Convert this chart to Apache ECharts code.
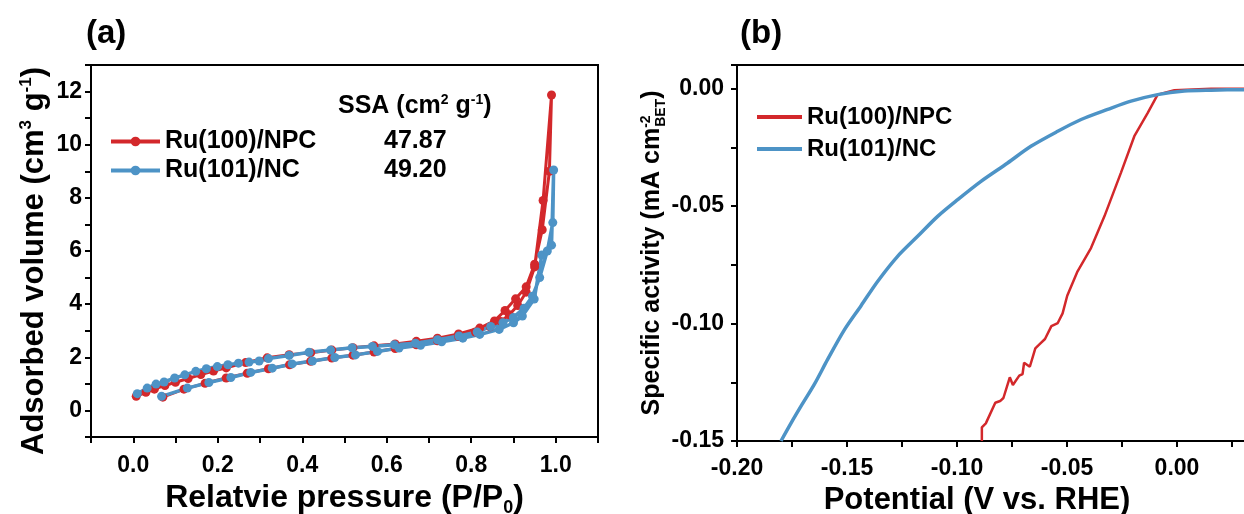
<!DOCTYPE html>
<html>
<head>
<meta charset="utf-8">
<script src="https://cdn.jsdelivr.net/npm/echarts@6/dist/echarts.min.js"></script>
<style>
  html, body { margin: 0; padding: 0; background: #fff; }
  #main { width: 1244px; height: 514px; }
</style>
</head>
<body>
<div id="main"></div>
<script>
// ---- (a) N2 isotherms, adsorption branch then desorption branch ----
const npcAdsP = [0.07, 0.12, 0.17, 0.22, 0.27, 0.32, 0.37, 0.42, 0.47, 0.52, 0.57, 0.62, 0.67, 0.72, 0.77, 0.81, 0.845, 0.87, 0.89, 0.91, 0.93, 0.95, 0.97, 0.99];
const npcAdsV = [0.5, 0.8, 1.02, 1.22, 1.4, 1.57, 1.72, 1.85, 1.97, 2.08, 2.2, 2.33, 2.47, 2.62, 2.78, 2.95, 3.15, 3.35, 3.6, 3.95, 4.45, 5.4, 7.9, 11.87];
const npcDesP = [0.985, 0.968, 0.95, 0.93, 0.905, 0.88, 0.855, 0.82, 0.77, 0.72, 0.67, 0.62, 0.57, 0.52, 0.47, 0.42, 0.369, 0.317, 0.266, 0.22, 0.19, 0.16, 0.13, 0.1, 0.075, 0.05, 0.03, 0.007];
const npcDesV = [9.0, 6.8, 5.5, 4.65, 4.2, 3.76, 3.37, 3.1, 2.88, 2.72, 2.6, 2.5, 2.43, 2.36, 2.27, 2.17, 2.1, 1.98, 1.8, 1.6, 1.48, 1.35, 1.2, 1.06, 0.94, 0.8, 0.68, 0.53];

const ncAdsP = [0.067, 0.128, 0.179, 0.231, 0.278, 0.329, 0.376, 0.424, 0.477, 0.526, 0.578, 0.629, 0.68, 0.73, 0.78, 0.82, 0.866, 0.9, 0.921, 0.949, 0.967, 0.99, 0.995];
const ncAdsV = [0.53, 0.84, 1.05, 1.24, 1.43, 1.59, 1.75, 1.86, 1.99, 2.09, 2.22, 2.35, 2.45, 2.58, 2.72, 2.86, 3.05, 3.3, 3.55, 4.19, 5.85, 6.22, 9.05];
const ncDesP = [0.993, 0.98, 0.962, 0.945, 0.925, 0.9, 0.875, 0.846, 0.814, 0.771, 0.72, 0.668, 0.618, 0.566, 0.518, 0.467, 0.416, 0.369, 0.32, 0.298, 0.274, 0.249, 0.224, 0.199, 0.173, 0.148, 0.122, 0.098, 0.073, 0.054, 0.033, 0.0095];
const ncDesV = [7.07, 6.0, 5.0, 4.3, 3.85, 3.5, 3.3, 3.16, 2.95, 2.8, 2.66, 2.53, 2.47, 2.41, 2.36, 2.27, 2.19, 2.07, 1.95, 1.86, 1.82, 1.78, 1.72, 1.65, 1.57, 1.47, 1.34, 1.22, 1.07, 0.99, 0.84, 0.63];

const ssaNames = ['Ru(100)/NPC', 'Ru(101)/NC'];
const ssaValues = ['47.87', '49.20'];

// ---- (b) LSV normalised by BET area ----
const ncPot = [-0.18, -0.1755, -0.1709, -0.1648, -0.1588, -0.1512, -0.1436, -0.1361, -0.127, -0.1179, -0.1088, -0.0997, -0.0891, -0.077, -0.0664, -0.0542, -0.0436, -0.0315, -0.0209, -0.0088, 0.0033, 0.0155, 0.03, 0.05];
const ncJ = [-0.15, -0.1425, -0.1352, -0.1258, -0.1153, -0.1027, -0.0924, -0.0821, -0.0714, -0.0629, -0.0544, -0.0473, -0.0395, -0.0317, -0.0246, -0.0182, -0.0132, -0.0089, -0.0054, -0.0026, -0.0011, -0.0007, -0.0005, -0.0004];
const npcPot = [-0.0887, -0.0887, -0.0869, -0.0826, -0.0804, -0.0789, -0.076, -0.0746, -0.0717, -0.0702, -0.0695, -0.0669, -0.0644, -0.0622, -0.06, -0.0571, -0.0542, -0.052, -0.0499, -0.0452, -0.0391, -0.033, -0.0255, -0.0194, -0.0133, -0.0088, -0.0012, 0.0155, 0.05];
const npcJ = [-0.15, -0.1442, -0.1425, -0.1337, -0.133, -0.1317, -0.1229, -0.1262, -0.1222, -0.1215, -0.1167, -0.1184, -0.1106, -0.1086, -0.1066, -0.1011, -0.0998, -0.0957, -0.0882, -0.0778, -0.0679, -0.0544, -0.0359, -0.0203, -0.0104, -0.0026, -0.0007, -0.0001, 0];

const RED = '#d3282b';
const BLUE = '#4d93c6';
const FONT = 'Liberation Sans, Arial, sans-serif';

const pairs = (xs, ys) => xs.map((x, i) => [x, ys[i]]);

// rich text styles for axis names with super/subscripts
function richStyles(fs) {
  const small = Math.round(fs * 0.56);
  const base = { fontFamily: FONT, fontWeight: 'bold', color: '#000', align: 'left' };
  return {
    n: { ...base, fontSize: fs, lineHeight: fs + 6, verticalAlign: 'middle' },
    sup: { ...base, fontSize: small, lineHeight: small, verticalAlign: 'top', padding: [2, 0, 0, 0] },
    // 1px-wide superscript so the following subscript stacks under it
    supz: { ...base, fontSize: small, lineHeight: small, verticalAlign: 'top', width: 1, padding: [2, 0, 0, 0] },
    sub: { ...base, fontSize: small, lineHeight: small, verticalAlign: 'bottom' }
  };
}

const axisLine = { show: true, onZero: false, lineStyle: { color: '#000', width: 2 } };
const axisTick = { show: true, inside: false, length: 6, lineStyle: { color: '#000', width: 2 } };
const labelStyle = { color: '#000', fontFamily: FONT, fontWeight: 'bold', fontSize: 23 };
const panelTitle = { fontFamily: FONT, fontWeight: 'bold', fontSize: 33, color: '#000' };

const chart = echarts.init(document.getElementById('main'));

chart.setOption({
  animation: false,
  backgroundColor: '#fff',
  title: [
    { text: '(a)', left: 86, top: 17, padding: 0, textStyle: panelTitle },
    { text: '(b)', left: 740, top: 17, padding: 0, textStyle: panelTitle },
    {
      text: '{n|SSA (cm}{sup|2}{n| g}{sup|-1}{n|)}',
      left: 338, top: 91, padding: 0,
      textStyle: { rich: richStyles(25) }
    }
  ],
  legend: [
    {
      data: ssaNames,
      orient: 'vertical', left: 109, top: 129, padding: 0,
      itemWidth: 49, itemHeight: 12, itemGap: 4,
      lineStyle: { width: 4 },
      formatter: name => '{n|' + name + '}{v|' + ssaValues[ssaNames.indexOf(name)] + '}',
      textStyle: {
        rich: {
          n: { width: 219, fontFamily: FONT, fontWeight: 'bold', fontSize: 25, lineHeight: 28, color: '#000' },
          v: { fontFamily: FONT, fontWeight: 'bold', fontSize: 25, lineHeight: 28, color: '#000' }
        }
      }
    },
    {
      data: ['Ru(100)/NPC ', 'Ru(101)/NC '],
      orient: 'vertical', left: 757, top: 103, padding: 0,
      icon: 'rect', itemWidth: 45, itemHeight: 4, itemGap: 4,
      textStyle: { fontFamily: FONT, fontWeight: 'bold', fontSize: 24, lineHeight: 28, color: '#000' }
    }
  ],
  grid: [
    { left: 91, top: 65, width: 507, height: 372, show: true, borderColor: '#000', borderWidth: 2, outerBoundsMode: 'none', containLabel: false },
    { left: 737, top: 65, width: 550, height: 376, show: true, borderColor: '#000', borderWidth: 2, outerBoundsMode: 'none', containLabel: false }
  ],
  xAxis: [
    {
      gridIndex: 0, type: 'value', min: -0.1, max: 1.1, interval: 0.1,
      axisLine, axisTick, splitLine: { show: false },
      axisLabel: {
        ...labelStyle, margin: 17,
        formatter: v => { const k = Math.round(v * 10); return (k >= 0 && k <= 10 && k % 2 === 0) ? (k / 10).toFixed(1) : ''; }
      },
      name: '{n|Relatvie pressure (P/P}{sub|0}{n|)}',
      nameLocation: 'middle', nameGap: 42,
      nameTextStyle: { rich: richStyles(32) }
    },
    {
      gridIndex: 1, type: 'value', min: -0.2, max: 0.05, interval: 0.025,
      axisLine, axisTick, splitLine: { show: false },
      axisLabel: {
        ...labelStyle, margin: 16,
        formatter: v => { const k = Math.round(v * 1000); return (k % 50 === 0 && k <= 0) ? (k / 1000).toFixed(2) : ''; }
      },
      name: '{n|Potential (V vs. RHE)}',
      nameLocation: 'middle', nameGap: 41,
      nameTextStyle: { rich: richStyles(31), padding: [0, 70, 0, 0] }
    }
  ],
  yAxis: [
    {
      gridIndex: 0, type: 'value', min: -1, max: 13, interval: 1,
      axisLine, axisTick, splitLine: { show: false },
      axisLabel: {
        ...labelStyle, margin: 9,
        formatter: v => (v >= 0 && v <= 12 && v % 2 === 0) ? String(v) : ''
      },
      name: '{n|Adsorbed volume (cm}{sup|3}{n| g}{sup|-1}{n|)}',
      nameLocation: 'middle', nameGap: 38,
      nameTextStyle: { rich: richStyles(31), padding: [0, 20, 0, 0] }
    },
    {
      gridIndex: 1, type: 'value', min: -0.15, max: 0.01, interval: 0.025,
      axisLine, axisTick, splitLine: { show: false },
      axisLabel: {
        ...labelStyle, margin: 13,
        formatter: v => { const k = Math.round(v * 1000); return (k % 50 === 0 && k <= 0) ? (k / 1000).toFixed(2) : ''; }
      },
      name: '{n|Specific activity (mA cm}{supz|-2}{sub|BET}{n|)}',
      nameLocation: 'middle', nameGap: 68,
      nameTextStyle: { rich: richStyles(25) }
    }
  ],
  series: [
    {
      name: 'Ru(100)/NPC', type: 'line', xAxisIndex: 0, yAxisIndex: 0,
      data: pairs(npcAdsP, npcAdsV).concat(pairs(npcDesP, npcDesV)),
      symbol: 'circle', symbolSize: 9, color: RED,
      lineStyle: { width: 3, color: RED }, itemStyle: { color: RED }
    },
    {
      name: 'Ru(101)/NC', type: 'line', xAxisIndex: 0, yAxisIndex: 0,
      data: pairs(ncAdsP, ncAdsV).concat(pairs(ncDesP, ncDesV)),
      symbol: 'circle', symbolSize: 9, color: BLUE,
      lineStyle: { width: 3.5, color: BLUE }, itemStyle: { color: BLUE }
    },
    {
      name: 'Ru(100)/NPC ', type: 'line', xAxisIndex: 1, yAxisIndex: 1,
      data: pairs(npcPot, npcJ), symbol: 'none', color: RED,
      lineStyle: { width: 2.5, color: RED }, itemStyle: { color: RED }
    },
    {
      name: 'Ru(101)/NC ', type: 'line', xAxisIndex: 1, yAxisIndex: 1,
      data: pairs(ncPot, ncJ), symbol: 'none', smooth: 0.3, color: BLUE,
      lineStyle: { width: 3.5, color: BLUE }, itemStyle: { color: BLUE }
    }
  ]
});
</script>
</body>
</html>
